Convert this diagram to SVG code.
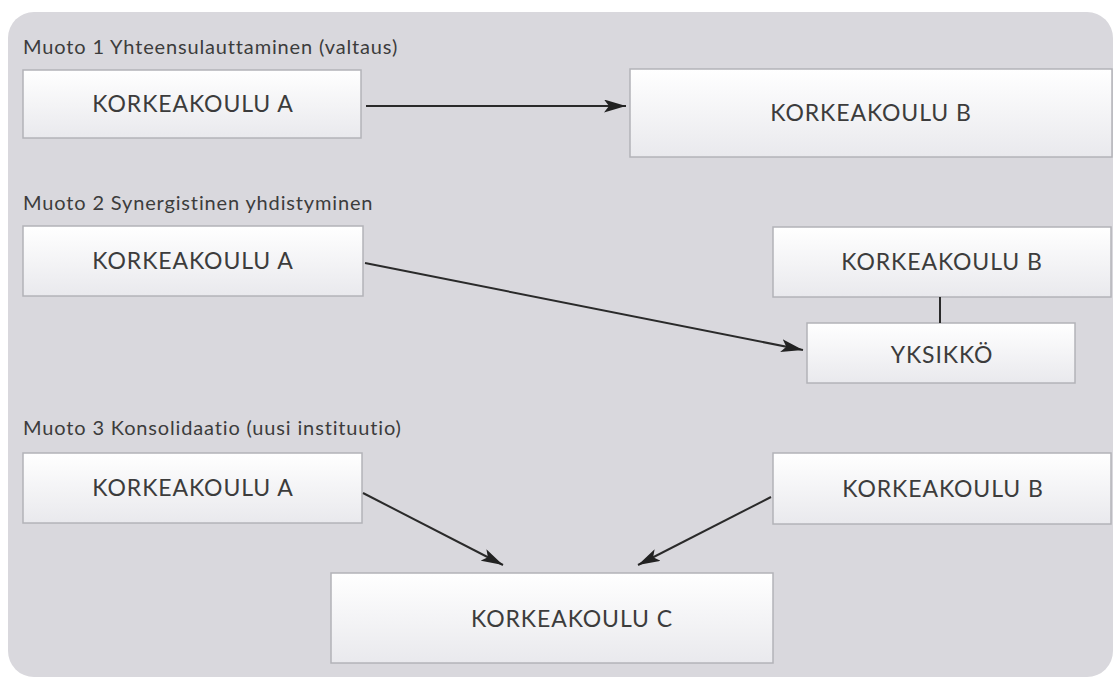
<svg xmlns="http://www.w3.org/2000/svg" width="1114" height="678" viewBox="0 0 1114 678">
  <defs>
    <linearGradient id="boxg" x1="0" y1="0" x2="0" y2="1">
      <stop offset="0" stop-color="#ffffff"/>
      <stop offset="1" stop-color="#e9e9ed"/>
    </linearGradient>
    <marker id="arr" viewBox="0 0 22 13" refX="22" refY="6.5" markerWidth="22" markerHeight="13" markerUnits="userSpaceOnUse" orient="auto">
      <path d="M0,0 L22,6.5 L0,13 L5,6.5 Z" fill="#222"/>
    </marker>
    <style>
      .box { fill: url(#boxg); stroke: #b3b3b8; stroke-width: 1.5; }
      .lbl { font-family: Lato, "Open Sans", sans-serif; font-size: 23px; letter-spacing: 0.9px; fill: #3c3c3c; text-anchor: middle; }
      .ttl { font-family: Lato, "Open Sans", sans-serif; font-size: 20px; letter-spacing: 0.85px; fill: #3c3c3c; }
      .con { stroke: #2a2a2a; stroke-width: 2; fill: none; }
    </style>
  </defs>
  <rect x="0" y="0" width="1114" height="678" fill="#ffffff"/>
  <rect x="8" y="12" width="1105" height="665" rx="26" ry="26" fill="#d9d8dd"/>

  <text class="ttl" x="23" y="54">Muoto 1 Yhteensulauttaminen (valtaus)</text>
  <text class="ttl" x="23" y="210">Muoto 2 Synergistinen yhdistyminen</text>
  <text class="ttl" x="23" y="435">Muoto 3 Konsolidaatio (uusi instituutio)</text>

  <g id="n1a"><rect class="box" x="23" y="70" width="338" height="68"/><text class="lbl" x="193" y="112">KORKEAKOULU A</text></g>
  <g id="n1b"><rect class="box" x="630" y="69" width="482" height="88"/><text class="lbl" x="871" y="121">KORKEAKOULU B</text></g>

  <g id="n2a"><rect class="box" x="23" y="226" width="340" height="70"/><text class="lbl" x="193" y="269">KORKEAKOULU A</text></g>
  <g id="n2b"><rect class="box" x="773" y="227" width="338" height="70"/><text class="lbl" x="942" y="270">KORKEAKOULU B</text></g>
  <g id="n2y"><rect class="box" x="807" y="323" width="268" height="60"/><text class="lbl" x="942" y="363">YKSIKKÖ</text></g>

  <g id="n3a"><rect class="box" x="23" y="453" width="339" height="70"/><text class="lbl" x="193" y="496">KORKEAKOULU A</text></g>
  <g id="n3b"><rect class="box" x="773" y="453" width="338" height="71"/><text class="lbl" x="943" y="497">KORKEAKOULU B</text></g>
  <g id="n3c"><rect class="box" x="331" y="573" width="442" height="90"/><text class="lbl" x="572" y="627">KORKEAKOULU C</text></g>

  <g id="connectors">
    <line class="con" x1="366" y1="106" x2="626" y2="106" marker-end="url(#arr)"/>
    <line class="con" x1="365" y1="263" x2="803" y2="350" marker-end="url(#arr)"/>
    <line class="con" x1="940" y1="297" x2="940" y2="323"/>
    <line class="con" x1="363" y1="493" x2="503" y2="565" marker-end="url(#arr)"/>
    <line class="con" x1="771" y1="497" x2="638" y2="565" marker-end="url(#arr)"/>
  </g>
</svg>
